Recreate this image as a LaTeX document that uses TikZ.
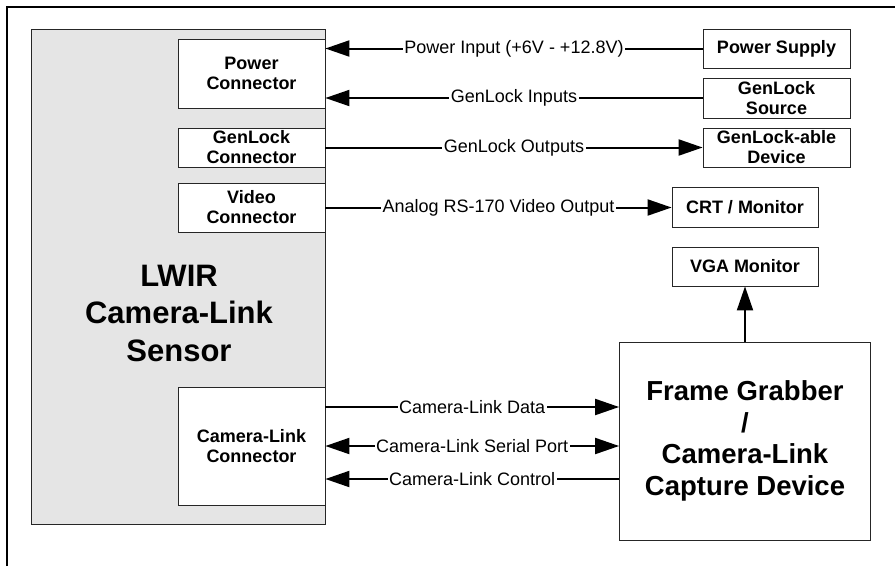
\documentclass[tikz,border=0pt]{standalone}
\usepackage{fontspec}
\setmainfont{Liberation Sans}
\usetikzlibrary{arrows.meta,positioning}

\begin{document}
\begin{tikzpicture}[x=1pt, y=-1pt,
    box/.style={rectangle, draw=black!85, line width=0.8pt, fill=white, align=center, inner sep=0pt, font=\bfseries\fontsize{18}{20}\selectfont},
    arrow/.style={-{Triangle[length=24pt,width=16pt]}, line width=2pt},
    biarrow/.style={{Triangle[length=24pt,width=16pt]}-{Triangle[length=24pt,width=16pt]}, line width=2pt},
    lbl/.style={fill=white, inner sep=1.5pt, font=\fontsize{18}{20}\selectfont}
]
    \useasboundingbox (0,0) rectangle (895,566);
    \draw[line width=2pt] (7,566) -- (7,7) -- (895,7);

    \node[box, fill=black!10, minimum width=294pt, minimum height=495pt] (sensor) at (178,276.5) {};
    \node[align=center, font=\bfseries\fontsize{31}{37.5}\selectfont] (sensorname) at (179,313) {LWIR\\Camera-Link\\Sensor};

    \node[box, minimum width=147pt, minimum height=69pt] (pwrconn) at (251.5,73.5) {Power\\Connector};
    \node[box, minimum width=147pt, minimum height=39pt] (glconn) at (251.5,147.5) {GenLock\\Connector};
    \node[box, minimum width=147pt, minimum height=49pt] (vidconn) at (251.5,207.5) {Video\\Connector};
    \node[box, minimum width=147pt, minimum height=118pt] (clconn) at (251.5,446) {Camera-Link\\Connector};

    \node[box, minimum width=147pt, minimum height=39pt] (psupply) at (776.5,48.5) {Power Supply};
    \node[box, minimum width=147pt, minimum height=40pt] (glsource) at (776.5,98) {GenLock\\Source};
    \node[box, minimum width=147pt, minimum height=39pt] (gldevice) at (776.5,147.5) {GenLock-able\\Device};
    \node[box, minimum width=146pt, minimum height=40pt] (crt) at (745,207.5) {CRT / Monitor};
    \node[box, minimum width=146pt, minimum height=39pt] (vga) at (745,266.5) {VGA Monitor};
    \node[box, minimum width=251pt, minimum height=198pt, font=\bfseries\fontsize{27.5}{31.5}\selectfont] (grabber) at (745,441) {Frame Grabber\\/\\Camera-Link\\Capture Device};

    \draw[arrow] (psupply) -- node[lbl] {Power Input (+6V - +12.8V)} (psupply -| pwrconn.east);
    \draw[arrow] (glsource) -- node[lbl] {GenLock Inputs} (glsource -| pwrconn.east);
    \draw[arrow] (glconn) -- node[lbl] {GenLock Outputs} (gldevice);
    \draw[arrow] (vidconn) -- node[lbl] {Analog RS-170 Video Output} (crt);
    \draw[arrow] (grabber) -- (vga);
    \draw[arrow] ([yshift=39pt]clconn.east) -- node[lbl] {Camera-Link Data} ([yshift=39pt]clconn.east -| grabber.west);
    \draw[biarrow] (clconn) -- node[lbl] {Camera-Link Serial Port} (clconn -| grabber.west);
    \draw[arrow] ([yshift=-33pt]clconn.east -| grabber.west) -- node[lbl] {Camera-Link Control} ([yshift=-33pt]clconn.east);
\end{tikzpicture}
\end{document}
